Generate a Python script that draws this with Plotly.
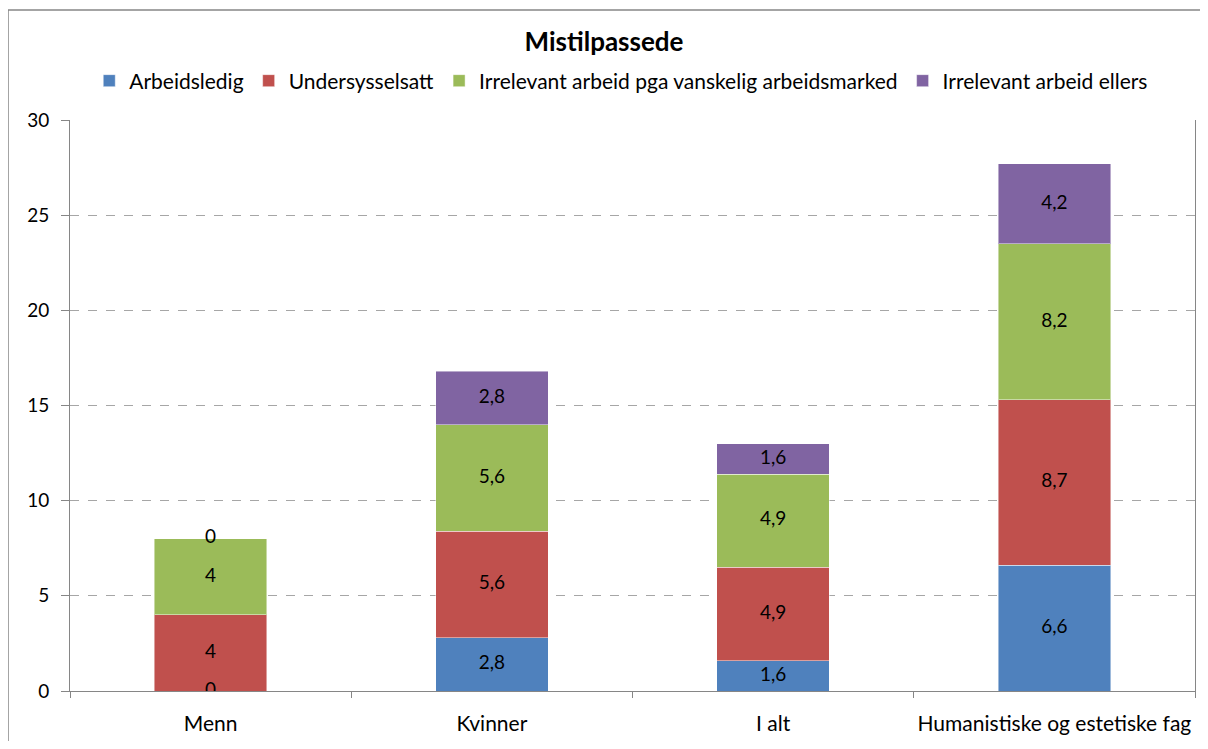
import plotly.graph_objects as go

categories = ["Menn", "Kvinner", "I alt", "Humanistiske og estetiske fag"]
series_names = ["Arbeidsledig", "Undersysselsatt",
                "Irrelevant arbeid pga vanskelig arbeidsmarked", "Irrelevant arbeid ellers"]
arbeidsledig = [0, 2.8, 1.6, 6.6]
undersysselsatt = [4, 5.6, 4.9, 8.7]
irrelevant_pga = [4, 5.6, 4.9, 8.2]
irrelevant_ellers = [0, 2.8, 1.6, 4.2]

series_values = [arbeidsledig, undersysselsatt, irrelevant_pga, irrelevant_ellers]
colors = ["#4F81BD", "#C0504D", "#9BBB59", "#8064A2"]
FONT = "Lato, Calibri, Arial, sans-serif"


def fmt(v):
    return f"{v:g}".replace(".", ",")


fig = go.Figure()

for name, vals, col in zip(series_names, series_values, colors):
    fig.add_trace(go.Bar(
        x=categories, y=vals, name=name,
        marker=dict(color=col, line=dict(color="rgba(255,255,255,0.45)", width=1)),
    ))

# data labels at the middle of each segment (also shows the zero values)
lx, ly, lt = [], [], []
base = [0] * len(categories)
for vals in series_values:
    for i, v in enumerate(vals):
        lx.append(categories[i])
        ly.append(base[i] + v / 2)
        lt.append(fmt(v))
        base[i] += v
fig.add_trace(go.Scatter(
    x=lx, y=ly, text=lt, mode="text", showlegend=False, hoverinfo="skip",
    textfont=dict(family=FONT, size=19, color="black"),
))

# page has an 8px body margin, so the figure starts at (8, 8)
W, H = 1192, 733
L, R, T, B = 62, 5, 112, 50
pw, ph = W - L - R, H - T - B

fig.update_layout(
    width=W, height=H,
    barmode="stack", bargap=0.6,
    margin=dict(l=L, r=R, t=T, b=B, autoexpand=False),
    paper_bgcolor="white", plot_bgcolor="white",
    font=dict(family=FONT, size=20, color="black"),
    title=dict(text="<b>Mistilpassede</b>", x=0.5, xanchor="center",
               y=1 - 34 / H, yanchor="middle", font=dict(size=26)),
    legend=dict(orientation="h", x=0.49, xanchor="center",
                y=1 + (T - 73) / ph, yanchor="middle",
                font=dict(size=21), itemwidth=30, traceorder="normal"),
    xaxis=dict(showline=True, linecolor="#868686", linewidth=1, tickangle=0,
               ticks="outside", tickson="boundaries", ticklen=6, tickcolor="#868686",
               ticklabelstandoff=14,
               showgrid=False, tickfont=dict(size=21)),
    yaxis=dict(range=[0, 30], dtick=5, showline=True, linecolor="#868686", linewidth=1,
               mirror=True, ticks="outside", ticklen=8, tickcolor="#868686",
               ticklabelstandoff=8,
               showgrid=True, gridcolor="#A6A6A6", griddash="dash", gridwidth=1,
               zeroline=False, tickfont=dict(size=19)),
    shapes=[dict(type="rect", xref="paper", yref="paper",
                 x0=(0 - L) / pw, x1=1 + (R + 20) / pw,
                 y0=-(B + 20) / ph, y1=1 + (T - 2) / ph,
                 line=dict(color="#868686", width=1.5), layer="below")],
)

fig.write_html("out.html")
